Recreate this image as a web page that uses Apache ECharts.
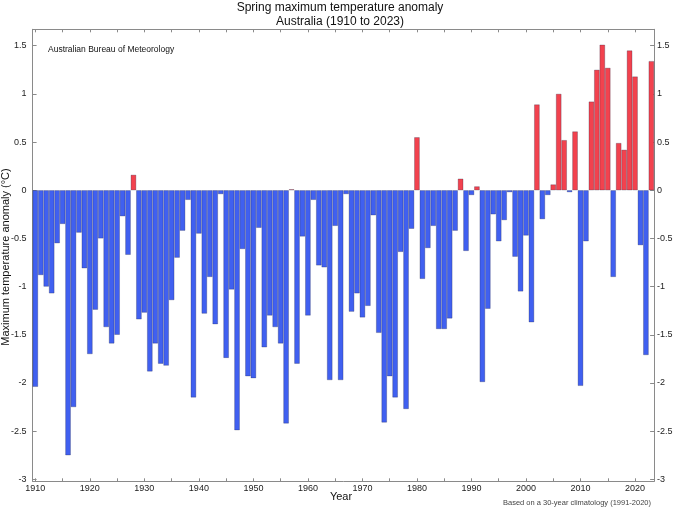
<!DOCTYPE html>
<html>
<head>
<meta charset="utf-8">
<script src="https://cdn.jsdelivr.net/npm/echarts@6/dist/echarts.min.js"></script>
<style>
html,body{margin:0;padding:0;background:#fff;}
#chart{width:680px;height:510px;}
</style>
</head>
<body>
<div id="chart"></div>
<script>
const years = [];
for (let y = 1910; y <= 2023; y++) years.push(String(y));

const anomalies = [
  -2.04, -0.88, -1.00, -1.07, -0.55, -0.35, -2.75, -2.25, -0.44, -0.81,
  -1.70, -1.24, -0.50, -1.42, -1.59, -1.50, -0.27, -0.67,  0.16, -1.34,
  -1.27, -1.88, -1.59, -1.80, -1.82, -1.14, -0.70, -0.42, -0.10, -2.15,
  -0.45, -1.28, -0.90, -1.39, -0.04, -1.74, -1.03, -2.49, -0.61, -1.93,
  -1.95, -0.39, -1.63, -1.30, -1.42, -1.59, -2.42,  0.01, -1.80, -0.48,
  -1.30, -0.10, -0.78, -0.80, -1.97, -0.37, -1.97, -0.04, -1.26, -1.07,
  -1.32, -1.20, -0.26, -1.48, -2.41, -1.93, -2.15, -0.64, -2.27, -0.40,
   0.55, -0.92, -0.60, -0.37, -1.44, -1.44, -1.33, -0.42,  0.12, -0.63,
  -0.05,  0.04, -1.99, -1.23, -0.25, -0.53, -0.31, -0.02, -0.69, -1.05,
  -0.47, -1.37,  0.89, -0.30, -0.05,  0.06,  1.00,  0.52, -0.02,  0.61,
  -2.03, -0.53,  0.92,  1.25,  1.51,  1.27, -0.90,  0.49,  0.42,  1.45,
   1.18, -0.57, -1.71,  1.34
];

const yTicks = [-3, -2.5, -2, -1.5, -1, -0.5, 0, 0.5, 1, 1.5];

const FONT = '"Liberation Sans", Arial, sans-serif';
const RED = '#f2424e';
const BLUE = '#4060f0';
const AXIS = '#8a8a8a';

const chart = echarts.init(document.getElementById('chart'), null, {renderer: 'canvas'});

function yAxisDef(pos) {
  return {
    type: 'value',
    position: pos,
    min: -3.02,
    max: 1.67,
    splitLine: {show: false},
    axisLine: {show: true, lineStyle: {color: AXIS, width: 1}},
    axisTick: {show: true, inside: true, length: 4, customValues: yTicks, lineStyle: {color: AXIS}},
    axisLabel: {
      show: true, customValues: yTicks, margin: pos === 'left' ? 6 : 3,
      fontFamily: FONT, fontSize: 9, color: '#222'
    }
  };
}

chart.setOption({
  animation: false,
  backgroundColor: '#fff',
  title: {
    text: 'Spring maximum temperature anomaly\nAustralia (1910 to 2023)',
    left: 'center',
    top: 0,
    padding: 0,
    textStyle: {fontFamily: FONT, fontSize: 12, fontWeight: 'normal', color: '#111', lineHeight: 14.5}
  },
  grid: {left: 32.6, right: 25.9, top: 29.3, bottom: 28.7, containLabel: false},
  xAxis: [
    {
      type: 'category',
      data: years,
      position: 'bottom',
      boundaryGap: true,
      axisLine: {show: true, onZero: false, lineStyle: {color: AXIS, width: 1}},
      axisTick: {
        show: true, inside: true, length: 3, alignWithLabel: true,
        interval: (i, v) => Number(v) % 5 === 0,
        lineStyle: {color: AXIS}
      },
      axisLabel: {
        interval: (i, v) => Number(v) % 10 === 0,
        margin: 3, fontFamily: FONT, fontSize: 9, color: '#222'
      },
      splitLine: {show: false}
    },
    {
      type: 'category',
      data: years,
      position: 'top',
      boundaryGap: true,
      axisLine: {show: true, onZero: false, lineStyle: {color: AXIS, width: 1}},
      axisTick: {
        show: true, inside: true, length: 3, alignWithLabel: true,
        interval: (i, v) => Number(v) % 5 === 0,
        lineStyle: {color: AXIS}
      },
      axisLabel: {show: false},
      splitLine: {show: false}
    }
  ],
  yAxis: [yAxisDef('left'), yAxisDef('right')],
  series: [{
    type: 'bar',
    xAxisIndex: 0,
    yAxisIndex: 0,
    data: anomalies,
    barWidth: '100%',
    barCategoryGap: 0,
    itemStyle: {
      color: p => (p.value >= 0 ? RED : BLUE),
      borderColor: 'rgba(30,30,60,0.45)',
      borderWidth: 0.6
    }
  }],
  graphic: [
    {
      type: 'text', left: 48, top: 45,
      style: {text: 'Australian Bureau of Meteorology', font: '8.5px ' + FONT, fill: '#111'}
    },
    {
      type: 'text', x: 341, y: 497,
      style: {text: 'Year', font: '11px ' + FONT, fill: '#111', textAlign: 'center', textVerticalAlign: 'middle'}
    },
    {
      type: 'text', x: 651, y: 503,
      style: {text: 'Based on a 30-year climatology (1991-2020)', font: '7.5px ' + FONT, fill: '#444', textAlign: 'right', textVerticalAlign: 'middle'}
    },
    {
      type: 'text', x: 6, y: 257, rotation: Math.PI / 2,
      style: {text: 'Maximum temperature anomaly (°C)', font: '11px ' + FONT, fill: '#111', textAlign: 'center', textVerticalAlign: 'middle'}
    }
  ]
});
</script>
</body>
</html>
